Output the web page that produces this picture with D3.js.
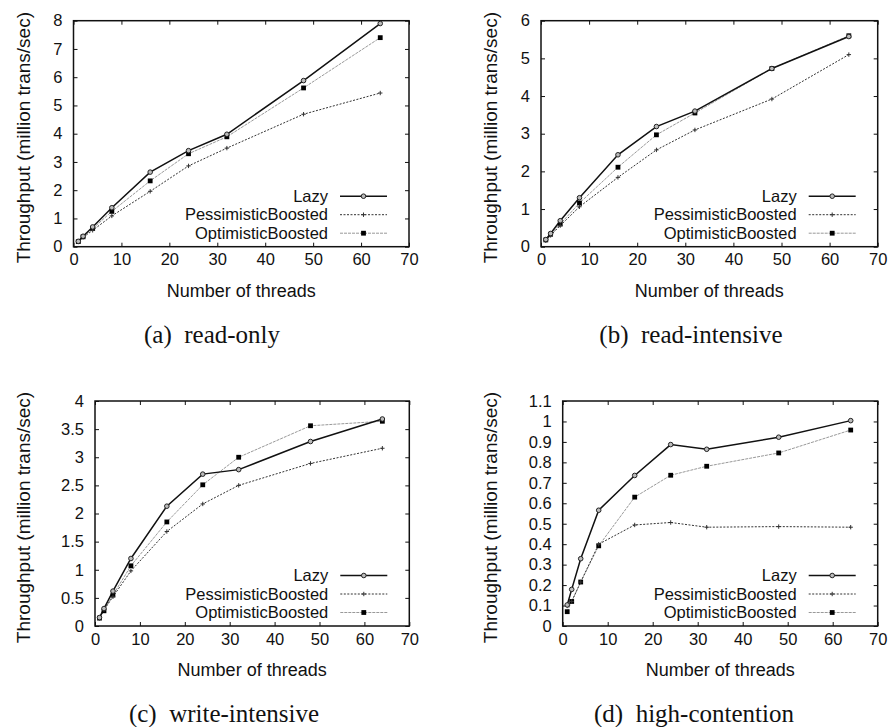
<!DOCTYPE html>
<html>
<head>
<meta charset="utf-8">
<script src="https://cdn.jsdelivr.net/npm/d3@7"></script>
<style>
  html, body { margin: 0; padding: 0; background: #fff; }
  svg { display: block; }
  .tick-label, .axis-title, .legend-label { font-family: "Liberation Sans", Arial, sans-serif; fill: #111; }
  .caption { font-family: "Liberation Serif", "Times New Roman", serif; fill: #111; }
</style>
</head>
<body>
<svg id="chart" width="892" height="727"></svg>
<script>
// Thread counts measured in every experiment
const threads = [1, 2, 4, 8, 16, 24, 32, 48, 64];
const seriesNames = ["Lazy", "PessimisticBoosted", "OptimisticBoosted"];

// Throughput (million trans/sec) — read-only workload
const readOnlyLazy        = [0.19, 0.37, 0.70, 1.38, 2.64, 3.40, 3.98, 5.88, 7.90];
const readOnlyPessimistic = [0.17, 0.33, 0.58, 1.09, 1.96, 2.86, 3.49, 4.69, 5.44];
const readOnlyOptimistic  = [0.18, 0.35, 0.64, 1.25, 2.33, 3.29, 3.89, 5.62, 7.40];

// read-intensive workload
const readIntLazy        = [0.19, 0.35, 0.69, 1.30, 2.44, 3.19, 3.60, 4.73, 5.58];
const readIntPessimistic = [0.16, 0.30, 0.56, 1.06, 1.84, 2.57, 3.10, 3.92, 5.10];
const readIntOptimistic  = [0.18, 0.33, 0.60, 1.16, 2.11, 2.97, 3.55, 4.73, 5.60];

// write-intensive workload
const writeIntLazy        = [0.15, 0.31, 0.62, 1.20, 2.13, 2.70, 2.78, 3.28, 3.68];
const writeIntPessimistic = [0.14, 0.29, 0.52, 0.98, 1.68, 2.17, 2.50, 2.89, 3.16];
const writeIntOptimistic  = [0.14, 0.27, 0.55, 1.07, 1.85, 2.51, 3.00, 3.56, 3.64];

// high-contention workload
const highContLazy        = [0.103, 0.179, 0.329, 0.566, 0.736, 0.887, 0.864, 0.923, 1.004];
const highContPessimistic = [0.098, 0.120, 0.215, 0.400, 0.494, 0.506, 0.483, 0.486, 0.483];
const highContOptimistic  = [0.070, 0.120, 0.215, 0.392, 0.630, 0.737, 0.781, 0.846, 0.958];

// Axis ticks
const xTicks = [0, 10, 20, 30, 40, 50, 60, 70];
const yTicksReadOnly  = [0, 1, 2, 3, 4, 5, 6, 7, 8];
const yTicksReadInt   = [0, 1, 2, 3, 4, 5, 6];
const yTicksWriteInt  = [0, 0.5, 1, 1.5, 2, 2.5, 3, 3.5, 4];
const yTicksHighCont  = [0, 0.1, 0.2, 0.3, 0.4, 0.5, 0.6, 0.7, 0.8, 0.9, 1, 1.1];

const captions = ["(a)\u2002read-only", "(b)\u2002read-intensive", "(c)\u2002write-intensive", "(d)\u2002high-contention"];
const yTitle = "Throughput (million trans/sec)";
const xTitle = "Number of threads";

// Panel layout (pixel frame of each plot area)
const panels = [
  { series: [readOnlyLazy, readOnlyPessimistic, readOnlyOptimistic], yTicks: yTicksReadOnly,
    left: 73.5, right: 409, top: 20.7, bottom: 246.7, yTitleX: 23, captionX: 212, captionY: 343 },
  { series: [readIntLazy, readIntPessimistic, readIntOptimistic], yTicks: yTicksReadInt,
    left: 541, right: 877.7, top: 20.7, bottom: 246.7, yTitleX: 490, captionX: 691, captionY: 343 },
  { series: [writeIntLazy, writeIntPessimistic, writeIntOptimistic], yTicks: yTicksWriteInt,
    left: 95, right: 409.3, top: 401, bottom: 626, yTitleX: 23, captionX: 224, captionY: 722 },
  { series: [highContLazy, highContPessimistic, highContOptimistic], yTicks: yTicksHighCont,
    left: 562.7, right: 877.7, top: 401, bottom: 626, yTitleX: 490, captionX: 694, captionY: 722 }
];

// Per-series line and marker styling
const styles = [
  { stroke: "#111", width: 1.5, dash: null, marker: "circle" },
  { stroke: "#333", width: 1.0, dash: "2,1.5", marker: "plus" },
  { stroke: "#999", width: 1.0, dash: "3,1", marker: "square" }
];

const svg = d3.select("#chart");

function drawMarker(g, type, x, y) {
  if (type === "circle") {
    g.append("circle").attr("cx", x).attr("cy", y).attr("r", 2.3)
      .attr("fill", "#bbb").attr("stroke", "#222").attr("stroke-width", 1);
  } else if (type === "plus") {
    g.append("path").attr("d", `M${x - 2.2},${y}H${x + 2.2}M${x},${y - 2.2}V${y + 2.2}`)
      .attr("stroke", "#333").attr("stroke-width", 1).attr("fill", "none");
  } else {
    g.append("rect").attr("x", x - 2.4).attr("y", y - 2.4).attr("width", 4.8).attr("height", 4.8)
      .attr("fill", "#000");
  }
}

panels.forEach((p, pi) => {
  const yMax = p.yTicks[p.yTicks.length - 1];
  const x = d3.scaleLinear().domain([0, 70]).range([p.left, p.right]);
  const y = d3.scaleLinear().domain([0, yMax]).range([p.bottom, p.top]);
  const g = svg.append("g");
  const tickLen = 4;

  // Inward ticks on all four sides (mirrored)
  const fmt = d3.format("~g");
  g.append("g").attr("transform", `translate(0,${p.bottom})`)
    .call(d3.axisBottom(x).tickValues(xTicks).tickSizeInner(-tickLen).tickSizeOuter(0).tickPadding(7).tickFormat(fmt))
    .call(a => a.select(".domain").remove())
    .call(a => a.selectAll("text").attr("class", "tick-label").attr("font-size", 16.5).attr("dy", "0.71em"));
  g.append("g").attr("transform", `translate(0,${p.top})`)
    .call(d3.axisTop(x).tickValues(xTicks).tickSizeInner(-tickLen).tickSizeOuter(0).tickFormat(""))
    .call(a => a.select(".domain").remove());
  g.append("g").attr("transform", `translate(${p.left},0)`)
    .call(d3.axisLeft(y).tickValues(p.yTicks).tickSizeInner(-tickLen).tickSizeOuter(0).tickPadding(11).tickFormat(fmt))
    .call(a => a.select(".domain").remove())
    .call(a => a.selectAll("text").attr("class", "tick-label").attr("font-size", 16.5));
  g.append("g").attr("transform", `translate(${p.right},0)`)
    .call(d3.axisRight(y).tickValues(p.yTicks).tickSizeInner(-tickLen).tickSizeOuter(0).tickFormat(""))
    .call(a => a.select(".domain").remove());
  g.selectAll(".tick line").attr("stroke", "#111").attr("stroke-width", 1);

  // Frame
  g.append("rect").attr("x", p.left).attr("y", p.top)
    .attr("width", p.right - p.left).attr("height", p.bottom - p.top)
    .attr("fill", "none").attr("stroke", "#111").attr("stroke-width", 1.5);

  // Series lines, drawn back to front
  const line = d3.line().x((d, i) => x(threads[i])).y(d => y(d));
  [2, 1, 0].forEach(si => {
    const s = styles[si];
    g.append("path").datum(p.series[si]).attr("d", line)
      .attr("fill", "none").attr("stroke", s.stroke).attr("stroke-width", s.width)
      .attr("stroke-dasharray", s.dash);
  });
  [2, 1, 0].forEach(si => {
    p.series[si].forEach((v, i) => drawMarker(g, styles[si].marker, x(threads[i]), y(v)));
  });

  // Legend (bottom right, inside the frame)
  seriesNames.forEach((name, si) => {
    const ly = p.bottom - 50.5 + si * 18.5;
    const s = styles[si];
    g.append("text").attr("class", "legend-label").attr("x", p.right - 81).attr("y", ly)
      .attr("dy", "0.35em").attr("text-anchor", "end").attr("font-size", 16.5).text(name);
    g.append("line").attr("x1", p.right - 69).attr("x2", p.right - 22).attr("y1", ly).attr("y2", ly)
      .attr("stroke", s.stroke).attr("stroke-width", s.width).attr("stroke-dasharray", s.dash);
    drawMarker(g, s.marker, p.right - 45.5, ly);
  });

  // Axis titles
  g.append("text").attr("class", "axis-title").attr("font-size", 18)
    .attr("x", (p.left + p.right) / 2).attr("y", p.bottom + 50)
    .attr("text-anchor", "middle").text(xTitle);
  g.append("text").attr("class", "axis-title").attr("font-size", 19)
    .attr("transform", `translate(${p.yTitleX},${(p.top + p.bottom) / 2 + 4}) rotate(-90)`)
    .attr("dy", "0.35em").attr("text-anchor", "middle").text(yTitle);

  // Sub-figure caption
  svg.append("text").attr("class", "caption").attr("font-size", 25)
    .attr("x", p.captionX).attr("y", p.captionY).attr("text-anchor", "middle").text(captions[pi]);
});
</script>
</body>
</html>
